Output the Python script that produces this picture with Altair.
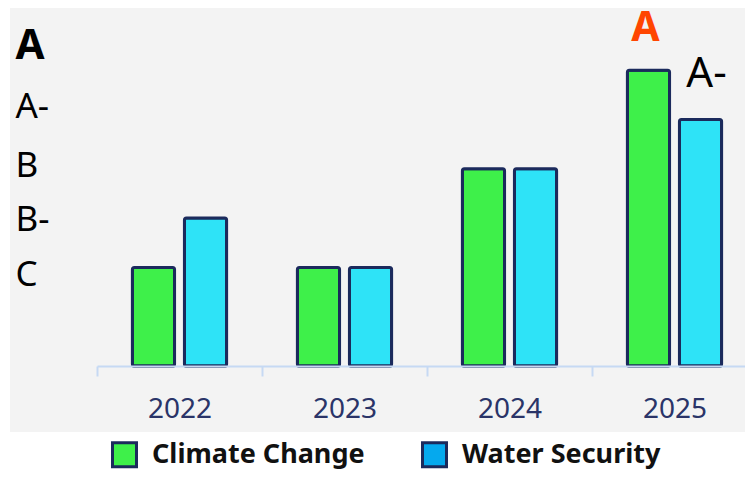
import altair as alt
import pandas as pd

years = ["2022", "2023", "2024", "2025"]
series = ["Climate Change", "Water Security"]
climate_scores = [2, 2, 4, 6]
water_scores = [3, 2, 4, 5]
grade_labels = ["C", "B-", "B", "A-", "A"]
grade_scores = [2, 3, 4, 5, 6]

grade_of = dict(zip(grade_scores, grade_labels))
rows = []
for i, yr in enumerate(years):
    rows.append({"Year": yr, "Series": series[0], "Score": climate_scores[i], "Grade": grade_of[climate_scores[i]]})
    rows.append({"Year": yr, "Series": series[1], "Score": water_scores[i], "Grade": grade_of[water_scores[i]]})
df = pd.DataFrame(rows)

NAVY = "#1b2a5c"
GREEN = "#3ef04a"
CYAN = "#2ee3f7"
LEGEND_BLUE = "#05a9ee"
AXIS_BLUE = "#c6d9f3"

# y-axis grade label slots
tick_vals = [1.86, 2.97, 4.07, 5.26, 6.49]
label_expr = " : ".join(
    [f"datum.value > {v - 0.3} ? '{g}'" for v, g in zip(reversed(tick_vals), reversed(grade_labels))][:-1]
) + f" : '{grade_labels[0]}'"

x_axis = alt.Axis(
    title=None,
    labelAngle=0,
    labelFontSize=28,
    labelColor="#2a3468",
    labelPadding=19,
    tickSize=10,
    tickWidth=2,
    tickColor=AXIS_BLUE,
    tickBand="extent",
    domainColor=AXIS_BLUE,
    domainWidth=2,
    grid=False,
    zindex=1,
)
y_axis = alt.Axis(
    title=None,
    values=tick_vals,
    labelExpr=label_expr,
    labelAlign="left",
    labelPadding=82,
    ticks=False,
    tickSize=0,
    domain=False,
    grid=False,
    zindex=1,
    labelColor="black",
    labelFontSize={"condition": {"test": "datum.value > 6", "value": 42}, "value": 35},
    labelFontWeight={"condition": {"test": "datum.value > 6", "value": "bold"}, "value": "normal"},
)

PLOT_W = 648
x_scale = alt.Scale(paddingInner=0, paddingOuter=0, range=[0, 660])
y_scale = alt.Scale(domain=[0, 7.26], nice=False, zero=True)
x_enc = alt.X("Year:N", sort=years, scale=x_scale, axis=x_axis)
xo_enc = alt.XOffset("Series:N", sort=series, scale=alt.Scale(paddingInner=0.19, paddingOuter=0.68))
y_enc = alt.Y("Score:Q", scale=y_scale, axis=y_axis)

background = alt.Chart(pd.DataFrame({"k": [0]})).mark_rect(color="#f3f3f3").encode(
    x=alt.value(-87), x2=alt.value(PLOT_W), y=alt.value(0), y2=alt.value(424)
)

legend_layer = alt.Chart(df).transform_calculate(zero="0").mark_bar(
    stroke=NAVY, strokeWidth=3
).encode(
    x=x_enc,
    xOffset=xo_enc,
    y=alt.Y("zero:Q", scale=y_scale, axis=y_axis),
    color=alt.Color(
        "Series:N",
        sort=series,
        scale=alt.Scale(domain=series, range=[GREEN, LEGEND_BLUE]),
        legend=alt.Legend(
            title=None,
            orient="none",
            direction="horizontal",
            legendX=14,
            legendY=433,
            padding=0,
            symbolType="square",
            symbolSize=576,
            symbolStrokeColor=NAVY,
            symbolStrokeWidth=3,
            labelFontSize=27,
            labelFontWeight="bold",
            labelColor="#111111",
            labelOffset=14,
            labelLimit=400,
            columnPadding=51,
        ),
    ),
)

bars = alt.Chart(df).mark_bar(stroke=NAVY, strokeWidth=3, cornerRadius=2).encode(
    x=x_enc,
    xOffset=xo_enc,
    y=y_enc,
    fill=alt.Fill("Series:N", sort=series, scale=alt.Scale(domain=series, range=[GREEN, CYAN]), legend=None),
)

last_year = years[-1]
txt_cc = alt.Chart(df).transform_filter(
    (alt.datum.Year == last_year) & (alt.datum.Series == series[0])
).mark_text(fontSize=41, fontWeight="bold", color="#ff4500", baseline="alphabetic", dy=-29, dx=-3).encode(
    x=x_enc, xOffset=xo_enc, y=y_enc, text="Grade:N"
)
txt_ws = alt.Chart(df).transform_filter(
    (alt.datum.Year == last_year) & (alt.datum.Series == series[1])
).mark_text(fontSize=42, fontWeight="normal", color="black", baseline="alphabetic", dy=-32, dx=6).encode(
    x=x_enc, xOffset=xo_enc, y=y_enc, text="Grade:N"
)

chart = alt.layer(background, legend_layer, bars, txt_cc, txt_ws).properties(
    width=PLOT_W,
    height=358,
    autosize=alt.AutoSizeParams(type="none"),
    padding={"left": 89, "top": 0, "right": 0, "bottom": 105},
    background="white",
).configure(font="Noto Sans").configure_view(stroke=None)

chart.save("out.html", embed_options={"renderer": "svg", "actions": False})
